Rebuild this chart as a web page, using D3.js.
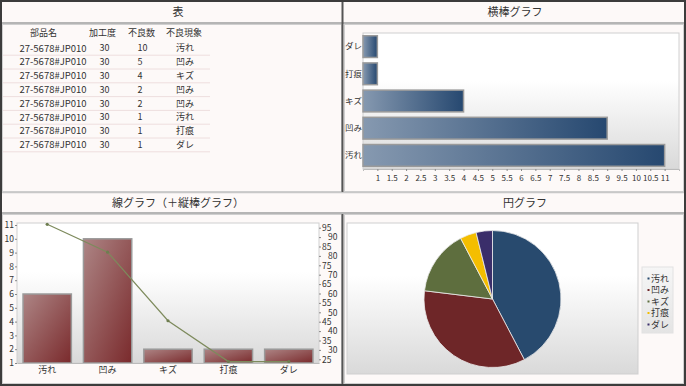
<!DOCTYPE html>
<html>
<head>
<meta charset="utf-8">
<script src="https://cdn.jsdelivr.net/npm/d3@7"></script>
<style>
  body { margin: 0; background: #fff; }
  svg text { font-family: "Noto Sans CJK JP", "DejaVu Sans", sans-serif; fill: #333; }
</style>
</head>
<body>
<svg id="chart" width="686" height="386"></svg>
<script>
// table
var tableHeaders = ["部品名", "加工度", "不良数", "不良現象"];
var partNames = ["27-5678#JP010", "27-5678#JP010", "27-5678#JP010", "27-5678#JP010",
                 "27-5678#JP010", "27-5678#JP010", "27-5678#JP010", "27-5678#JP010"];
var workDegrees = [30, 30, 30, 30, 30, 30, 30, 30];
var defectCounts = [10, 5, 4, 2, 2, 1, 1, 1];
var defectTypes = ["汚れ", "凹み", "キズ", "凹み", "凹み", "汚れ", "打痕", "ダレ"];

// horizontal bars + pie
var categories = ["汚れ", "凹み", "キズ", "打痕", "ダレ"];
var totals = [11, 9, 4, 1, 1];
var xTicksH = [1, 1.5, 2, 2.5, 3, 3.5, 4, 4.5, 5, 5.5, 6, 6.5, 7, 7.5, 8, 8.5, 9, 9.5, 10, 10.5, 11];

// line chart (+ column chart)
var columnValues = [6, 10, 2, 2, 2];
var lineValues = [96.8, 82, 45.5, 23.8, 23.8];
var leftTicks = [1, 2, 3, 4, 5, 6, 7, 8, 9, 10, 11];
var rightTicks = [25, 30, 35, 40, 45, 50, 55, 60, 65, 70, 75, 80, 85, 90, 95];

var pieColors = ["#284a6e", "#6e2628", "#5e6e3e", "#f4be00", "#3a2e6a"];

var svg = d3.select("#chart");
var defs = svg.append("defs");

function plotGradient(id) {
  var g = defs.append("linearGradient").attr("id", id)
      .attr("x1", 0).attr("y1", 0).attr("x2", 0).attr("y2", 1);
  g.append("stop").attr("offset", "0%").attr("stop-color", "#ffffff");
  g.append("stop").attr("offset", "35%").attr("stop-color", "#ffffff");
  g.append("stop").attr("offset", "100%").attr("stop-color", "#d9d9d9");
}
plotGradient("plotBg");

var hGrad = defs.append("linearGradient").attr("id", "hbarGrad")
    .attr("x1", 0).attr("y1", 0).attr("x2", 1).attr("y2", 0);
hGrad.append("stop").attr("offset", "0%").attr("stop-color", "#8699b0");
hGrad.append("stop").attr("offset", "100%").attr("stop-color", "#264870");

var vGrad = defs.append("linearGradient").attr("id", "vbarGrad")
    .attr("x1", 0).attr("y1", 0).attr("x2", 1).attr("y2", 1);
vGrad.append("stop").attr("offset", "0%").attr("stop-color", "#ad8585");
vGrad.append("stop").attr("offset", "100%").attr("stop-color", "#7a2a2c");

var legGrad = defs.append("linearGradient").attr("id", "legBg")
    .attr("x1", 0).attr("y1", 0).attr("x2", 0).attr("y2", 1);
legGrad.append("stop").attr("offset", "0%").attr("stop-color", "#f6f6f6");
legGrad.append("stop").attr("offset", "100%").attr("stop-color", "#e4e4e4");

// ---- frame ----
svg.append("rect").attr("x", 0).attr("y", 0).attr("width", 686).attr("height", 386)
    .attr("fill", "#fdf9f8");

// content frames
[[2, 24, 340, 168], [344, 24, 340, 168], [2, 214, 340, 170], [344, 214, 340, 170]].forEach(function(r) {
  svg.append("rect").attr("x", r[0] + 0.5).attr("y", r[1] + 0.5)
      .attr("width", r[2] - 1).attr("height", r[3] - 1)
      .attr("fill", "none").attr("stroke", "#cfcfcf");
});

// title separators
[23, 213].forEach(function(y) {
  svg.append("line").attr("x1", 2).attr("x2", 684).attr("y1", y).attr("y2", y)
      .attr("stroke", "#b5b5b5").attr("stroke-width", 2);
});
svg.append("line").attr("x1", 2).attr("x2", 684).attr("y1", 192.5).attr("y2", 192.5)
    .attr("stroke", "#c8c8c8").attr("stroke-width", 1.5);

// vertical divider
svg.append("line").attr("x1", 342.5).attr("x2", 342.5).attr("y1", 0).attr("y2", 192)
    .attr("stroke", "#555").attr("stroke-width", 2);
svg.append("line").attr("x1", 342.5).attr("x2", 342.5).attr("y1", 214).attr("y2", 386)
    .attr("stroke", "#555").attr("stroke-width", 2);

// outer border
svg.append("rect").attr("x", 1).attr("y", 1).attr("width", 684).attr("height", 384)
    .attr("fill", "none").attr("stroke", "#3c3c3c").attr("stroke-width", 2);

// titles
var titles = [["表", 178, 12], ["横棒グラフ", 515, 12], ["線グラフ（＋縦棒グラフ）", 178, 203], ["円グラフ", 525, 203]];
titles.forEach(function(t) {
  svg.append("text").attr("x", t[1]).attr("y", t[2]).attr("dy", "0.35em")
      .attr("text-anchor", "middle").style("font-size", "11px").text(t[0]);
});

// ---- table ----
var table = svg.append("g").style("font-size", "9px");
var headerX = [43.5, 102.5, 141.5, 184];
tableHeaders.forEach(function(h, i) {
  table.append("text").attr("x", headerX[i]).attr("y", 32.5).attr("dy", "0.35em")
      .attr("text-anchor", "middle").text(h);
});
var rowY = d3.scaleLinear().domain([0, 1]).range([48.3, 62.1]);
var colLeft = [19.5, 99.5, 137.5, 176];
partNames.forEach(function(p, i) {
  var y = rowY(i);
  var cells = [p, workDegrees[i], defectCounts[i], defectTypes[i]];
  cells.forEach(function(c, j) {
    table.append("text").attr("x", colLeft[j]).attr("y", y).attr("dy", "0.35em")
        .style("font-size", j === 0 ? "9.5px" : "9px").text(c);
  });
  table.append("line").attr("x1", 3).attr("x2", 210)
      .attr("y1", y + 6.9).attr("y2", y + 6.9)
      .attr("stroke", "#eedede").attr("stroke-width", 1);
});

// ---- horizontal bar chart ----
var hb = { left: 363, top: 33, right: 679, bottom: 169 };
var xH = d3.scaleLinear().domain([0.5, 11.5]).range([hb.left, hb.right]);
var yH = d3.scaleBand().domain(categories.slice().reverse()).range([hb.top, hb.bottom])
    .paddingInner(0.2).paddingOuter(0.1);

svg.append("rect").attr("x", hb.left).attr("y", hb.top)
    .attr("width", hb.right - hb.left).attr("height", hb.bottom - hb.top)
    .attr("fill", "url(#plotBg)").attr("stroke", "#d0d0d0");

svg.append("g").selectAll("rect").data(categories).enter().append("rect")
    .attr("x", xH(0.5))
    .attr("y", function(d) { return yH(d); })
    .attr("width", function(d, i) { return xH(totals[i]) - xH(0.5); })
    .attr("height", yH.bandwidth())
    .attr("fill", "url(#hbarGrad)")
    .attr("stroke", "#9a9a9a").attr("stroke-width", 1.5);

var xAxisH = svg.append("g").attr("transform", "translate(0," + hb.bottom + ")")
    .call(d3.axisBottom(xH).tickValues(xTicksH).tickSize(2).tickPadding(4)
      .tickFormat(function(d) { return d; }));
xAxisH.select(".domain").attr("stroke", "#bbb");
xAxisH.selectAll("line").attr("stroke", "#888");
xAxisH.selectAll("text").style("font-size", "8px").attr("fill", "#333");

var yAxisH = svg.append("g").attr("transform", "translate(" + hb.left + ",0)")
    .call(d3.axisLeft(yH).tickSize(0).tickPadding(1));
yAxisH.select(".domain").remove();
yAxisH.selectAll("text").style("font-size", "8.5px").attr("fill", "#333");

// ---- line + column chart ----
var lc = { left: 17, top: 223, right: 319, bottom: 363 };
var xV = d3.scaleBand().domain(categories).range([lc.left, lc.right])
    .paddingInner(0.2).paddingOuter(0.1);
var yL = d3.scaleLinear().domain([1, 11]).range([363, 225]);
var yR = d3.scaleLinear().domain([25, 95]).range([359.3, 227.7]);

svg.append("rect").attr("x", lc.left).attr("y", lc.top)
    .attr("width", lc.right - lc.left).attr("height", lc.bottom - lc.top)
    .attr("fill", "url(#plotBg)").attr("stroke", "#d0d0d0");

svg.append("g").selectAll("rect").data(categories).enter().append("rect")
    .attr("x", function(d) { return xV(d); })
    .attr("y", function(d, i) { return yL(columnValues[i]); })
    .attr("width", xV.bandwidth())
    .attr("height", function(d, i) { return yL(1) - yL(columnValues[i]); })
    .attr("fill", "url(#vbarGrad)")
    .attr("stroke", "#9a9a9a").attr("stroke-width", 1.5);

var line = d3.line()
    .x(function(d, i) { return xV(categories[i]) + xV.bandwidth() / 2; })
    .y(function(d) { return yR(d); });
svg.append("path").datum(lineValues).attr("d", line)
    .attr("fill", "none").attr("stroke", "#7d8a5c").attr("stroke-width", 1.2);
svg.append("g").selectAll("circle").data(lineValues).enter().append("circle")
    .attr("cx", function(d, i) { return xV(categories[i]) + xV.bandwidth() / 2; })
    .attr("cy", function(d) { return yR(d); })
    .attr("r", 1.6).attr("fill", "#6e7d50");

var xAxisV = svg.append("g").attr("transform", "translate(0," + lc.bottom + ")")
    .call(d3.axisBottom(xV).tickSize(0).tickPadding(4));
xAxisV.select(".domain").attr("stroke", "#bbb");
xAxisV.selectAll("text").style("font-size", "9px").attr("fill", "#333");

var yAxisL = svg.append("g").attr("transform", "translate(" + lc.left + ",0)")
    .call(d3.axisLeft(yL).tickValues(leftTicks).tickSize(2).tickPadding(1));
yAxisL.select(".domain").remove();
yAxisL.selectAll("line").attr("stroke", "#888");
yAxisL.selectAll("text").style("font-size", "8.5px").attr("fill", "#333");

var yAxisR = svg.append("g").attr("transform", "translate(" + lc.right + ",0)")
    .call(d3.axisRight(yR).tickValues(rightTicks).tickSize(2).tickPadding(1));
yAxisR.select(".domain").remove();
yAxisR.selectAll("line").attr("stroke", "#888");
yAxisR.selectAll("text").style("font-size", "8.5px").attr("fill", "#333")
    .attr("x", function(d) { return d % 10 === 0 ? 9 : 3; });

// ---- pie ----
var pa = { left: 347, top: 223, right: 638, bottom: 374 };
svg.append("rect").attr("x", pa.left).attr("y", pa.top)
    .attr("width", pa.right - pa.left).attr("height", pa.bottom - pa.top)
    .attr("fill", "url(#plotBg)").attr("stroke", "#cfcfcf");

var pie = d3.pie().sort(null);
var arc = d3.arc().innerRadius(0).outerRadius(68.5);
var color = d3.scaleOrdinal().domain(categories).range(pieColors);
svg.append("g").attr("transform", "translate(492.5,299)")
  .selectAll("path").data(pie(totals)).enter().append("path")
    .attr("d", arc)
    .attr("fill", function(d, i) { return color(categories[i]); })
    .attr("stroke", "#ececec").attr("stroke-width", 0.8);

// legend
svg.append("rect").attr("x", 642).attr("y", 267).attr("width", 31).attr("height", 66)
    .attr("fill", "url(#legBg)").attr("stroke", "#e2e2e2");
var legY = d3.scaleLinear().domain([0, 1]).range([278.5, 290]);
var leg = svg.append("g").selectAll("g").data(categories).enter().append("g")
    .attr("transform", function(d, i) { return "translate(0," + legY(i) + ")"; });
leg.append("rect").attr("x", 647.5).attr("y", -1).attr("width", 2).attr("height", 2)
    .attr("fill", function(d) { return color(d); });
leg.append("text").attr("x", 651).attr("dy", "0.35em").style("font-size", "9px")
    .text(function(d) { return d; });
</script>
</body>
</html>
